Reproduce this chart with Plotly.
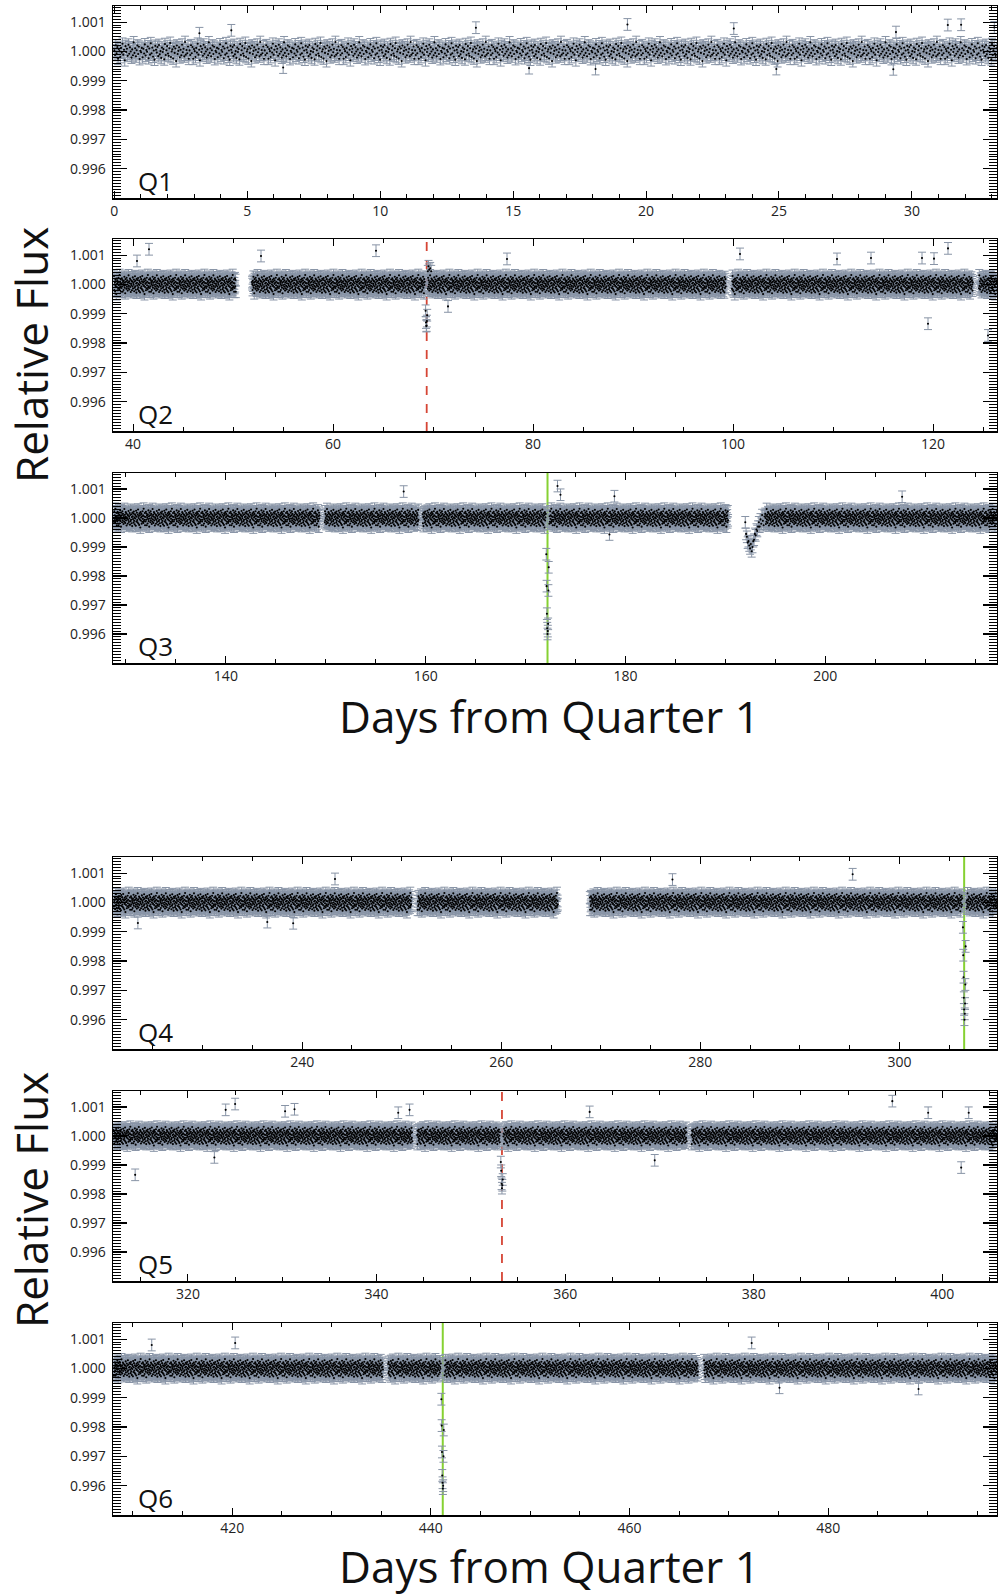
import numpy as np
import plotly.graph_objects as go

W, H = 998, 1596
FONT = "Open Sans"

# ---------------- data ----------------
QUARTERS = ["Q1", "Q2", "Q3", "Q4", "Q5", "Q6"]
X_RANGES = [(-0.05, 33.2), (38.0, 126.4), (128.7, 217.2),
            (221.0, 309.8), (312.05, 405.8), (408.0, 497.0)]
X_DTICK = [5, 20, 20, 20, 20, 20]
X_MINOR = [1, 5, 5, 5, 5, 5]

# continuous observing stretches (days)
SEG_Q1 = [(0.0, 33.2)]
SEG_Q2 = [(38.1, 50.3), (51.9, 99.3), (99.9, 124.0), (124.6, 126.4)]
SEG_Q3 = [(128.8, 149.4), (149.9, 159.3), (159.7, 190.3), (194.0, 217.2)]
SEG_Q4 = [(221.1, 251.0), (251.6, 265.7), (268.9, 309.8)]
SEG_Q5 = [(312.1, 343.8), (344.3, 372.9), (373.4, 405.8)]
SEG_Q6 = [(408.1, 435.2), (435.7, 466.9), (467.5, 497.0)]
SEGMENTS = [SEG_Q1, SEG_Q2, SEG_Q3, SEG_Q4, SEG_Q5, SEG_Q6]
CADENCE = 0.028  # days between samples

# typical point-to-point scatter read from the band (ppm)
RESID_PPM = [35, -120, 210, -60, 150, -250, 80, 10, -190, 120, -40, 260, -110, 60,
             -300, 180, -20, 90, -150, 230, -80, 140, 0, -210, 70, -130, 310, -50,
             110, -170, 40, 200, -90, 160, -260, 20, -30, 120, -200, 90, -70, 240,
             -140, 50, -10, 170, -230, 100, -110, 280, -60, 130, -180, 30, -280, 190,
             60, -40, 150, -160, 220, -100, 10, -220, 130, -20, 80, -270, 250, -120,
             40, 180, -70, -150, 110, 290, -190, 0, 70, -240, 160, -50, 100, -330,
             200, -90, 20, 140, -200, 60, -130, 230, -30, 90, -170, 320, -110, 50,
             -60, 170, -250]
FLUX_ERR = 0.0002

# transit / event markers
EVENT_X = [None, 69.37, 172.2, 306.5, 353.3, 441.2]
EVENT_KIND = [None, "dash", "solid", "solid", "dash", "solid"]

# in-transit points
TR_T_Q2 = [69.26, 69.30, 69.33, 69.36, 69.39, 69.42]
TR_F_Q2 = [0.9991, 0.9987, 0.99858, 0.9986, 0.99875, 0.99895]
TR_T_Q3 = [172.08, 172.11, 172.14, 172.17, 172.20, 172.23, 172.26, 172.29, 172.32]
TR_F_Q3 = [0.99875, 0.99765, 0.9967, 0.9962, 0.9960, 0.9961, 0.99635, 0.9975, 0.9983]
TR_T_Q4 = [306.38, 306.41, 306.44, 306.47, 306.50, 306.53, 306.56, 306.59, 306.62, 306.65]
TR_F_Q4 = [0.99915, 0.9982, 0.99745, 0.99675, 0.99635, 0.996, 0.9962, 0.99655, 0.9972, 0.9985]
TR_T_Q5 = [353.18, 353.22, 353.26, 353.30, 353.34, 353.38]
TR_F_Q5 = [0.9991, 0.9988, 0.99835, 0.9982, 0.9983, 0.9985]
TR_T_Q6 = [441.06, 441.09, 441.12, 441.15, 441.18, 441.21, 441.24, 441.27, 441.30]
TR_F_Q6 = [0.99895, 0.99805, 0.99715, 0.99635, 0.9961, 0.9959, 0.996, 0.997, 0.9979]
TR_T = [[], TR_T_Q2, TR_T_Q3, TR_T_Q4, TR_T_Q5, TR_T_Q6]
TR_F = [[], TR_F_Q2, TR_F_Q3, TR_F_Q4, TR_F_Q5, TR_F_Q6]

# Q3 dip near day 192-194
DIP_T = [192.00, 192.08, 192.16, 192.24, 192.32, 192.40, 192.48, 192.56, 192.64, 192.72,
         192.80, 192.88, 192.96, 193.04, 193.12, 193.20, 193.28, 193.36, 193.44, 193.52,
         193.60, 193.68, 193.76, 193.84, 193.92]
DIP_F = [0.99985, 0.99945, 0.99935, 0.99915, 0.9992, 0.99905, 0.99895, 0.9991, 0.99885, 0.999,
         0.9992, 0.99925, 0.99945, 0.9994, 0.9996, 0.99955, 0.9997, 0.99985, 0.9997, 0.99995,
         0.9998, 1.0001, 0.9999, 0.99975, 1.00005]

# isolated outliers
OUT_T_Q1 = [3.2, 4.4, 13.6, 6.35, 19.3, 23.3, 29.4, 31.35, 31.85, 33.1, 29.3, 24.9, 18.1, 15.6]
OUT_F_Q1 = [1.00062, 1.00072, 1.00081, 0.99945, 1.00092, 1.00078, 1.00066, 1.0009, 1.00091,
            1.00082, 0.99939, 0.9994, 0.9994, 0.99943]
OUT_T_Q2 = [40.4, 41.6, 52.8, 64.3, 71.5, 77.4, 100.7, 110.4, 113.8, 121.5, 119.5, 125.5,
            120.1, 118.9, 69.55, 69.62, 69.72, 69.48, 69.82]
OUT_F_Q2 = [1.0008, 1.0012, 1.00097, 1.00115, 0.99925, 1.00087, 1.00104, 1.00087, 1.0009,
            1.00123, 0.99866, 0.99826, 1.00088, 1.0009, 1.00062, 1.0005, 1.00055, 1.00045, 1.00045]
OUT_T_Q3 = [157.8, 173.2, 178.9, 207.7, 178.4, 173.5]
OUT_F_Q3 = [1.00091, 1.0011, 1.00075, 1.00073, 0.99943, 1.0008]
OUT_T_Q4 = [295.3, 277.2, 243.3, 236.5, 239.1, 223.5]
OUT_F_Q4 = [1.00096, 1.00078, 1.0008, 0.99933, 0.99929, 0.9993]
OUT_T_Q5 = [314.4, 325.0, 324.0, 330.3, 331.3, 342.3, 343.5, 322.8, 362.6, 369.5, 394.7,
            402.0, 398.5, 402.8]
OUT_F_Q5 = [0.99866, 1.0011, 1.0009, 1.00085, 1.00092, 1.0008, 1.0009, 0.99926, 1.00083,
            0.99916, 1.0012, 0.99891, 1.0008, 1.0008]
OUT_T_Q6 = [420.3, 411.9, 472.3, 475.1, 489.1]
OUT_F_Q6 = [1.00087, 1.0008, 1.00087, 0.99934, 0.9993]
OUT_T = [OUT_T_Q1, OUT_T_Q2, OUT_T_Q3, OUT_T_Q4, OUT_T_Q5, OUT_T_Q6]
OUT_F = [OUT_F_Q1, OUT_F_Q2, OUT_F_Q3, OUT_F_Q4, OUT_F_Q5, OUT_F_Q6]

Y_TICKS = [0.996, 0.997, 0.998, 0.999, 1.000, 1.001]
Y_TICKTEXT = ["0.996", "0.997", "0.998", "0.999", "1.000", "1.001"]
Y_RANGE = [0.995, 1.00155]

# panel placement (pixels from top)
PANEL_TOP = [6, 239, 473, 857, 1091, 1323]
PANEL_BOT = [198, 431, 663, 1049, 1281, 1515]
X_LEFT, X_RIGHT = 113, 997

# ---------------- figure ----------------
fig = go.Figure()
layout = dict(
    template="none",
    width=W, height=H, margin=dict(l=0, r=0, t=0, b=0, pad=0, autoexpand=False),
    paper_bgcolor="white", plot_bgcolor="white", showlegend=False,
    font=dict(family=FONT, color="#1a1a1a"),
)
shapes, annotations = [], []
k = 0
for i, q in enumerate(QUARTERS):
    tr_lo = min(TR_T[i]) - 0.06 if TR_T[i] else None
    tr_hi = max(TR_T[i]) + 0.06 if TR_T[i] else None
    xs, ys = [], []
    for a, b in SEGMENTS[i]:
        for t in np.arange(a, b, CADENCE):
            if tr_lo is not None and tr_lo <= t <= tr_hi:
                continue
            xs.append(float(t))
            ys.append(1.0 + RESID_PPM[k % len(RESID_PPM)] * 1e-6)
            k += 1
    if i == 2:
        xs += DIP_T
        ys += DIP_F
    xs += TR_T[i] + OUT_T[i]
    ys += TR_F[i] + OUT_F[i]

    n = i + 1
    xname = "x" if n == 1 else f"x{n}"
    yname = "y" if n == 1 else f"y{n}"
    fig.add_trace(go.Scatter(
        x=xs, y=ys, mode="markers", xaxis=xname, yaxis=yname,
        marker=dict(color="black", size=2.1, line=dict(width=0)),
        error_y=dict(type="constant", value=FLUX_ERR, color="#8894a6",
                     thickness=1, width=4),
        hoverinfo="skip",
    ))

    xkey = "xaxis" if n == 1 else f"xaxis{n}"
    ykey = "yaxis" if n == 1 else f"yaxis{n}"
    layout[xkey] = dict(
        domain=[X_LEFT / W, X_RIGHT / W], range=list(X_RANGES[i]), anchor=yname,
        automargin=False,
        showline=True, linecolor="black", linewidth=1.5, mirror="ticks",
        ticks="inside", ticklen=7, tickwidth=1, tickcolor="black",
        tickmode="linear", tick0=0, dtick=X_DTICK[i],
        minor=dict(tickmode="linear", tick0=0, dtick=X_MINOR[i], ticks="inside",
                   ticklen=4, tickwidth=1, tickcolor="black", showgrid=False),
        showgrid=False, zeroline=False,
        tickfont=dict(size=14, family=FONT, color="#222"),
    )
    layout[ykey] = dict(
        domain=[1 - PANEL_BOT[i] / H, 1 - PANEL_TOP[i] / H], range=Y_RANGE,
        anchor=xname, automargin=False,
        showline=True, linecolor="black", linewidth=1.5,
        mirror="ticks", ticks="inside", ticklen=14, tickwidth=1.2, tickcolor="black",
        tickmode="array", tickvals=Y_TICKS, ticktext=Y_TICKTEXT,
        minor=dict(tickmode="linear", tick0=0.995, dtick=0.0001, ticks="inside",
                   ticklen=8, tickwidth=1, tickcolor="black", showgrid=False),
        showgrid=False, zeroline=False, ticklabelstandoff=3,
        tickfont=dict(size=14, family=FONT, color="#222"),
    )

    if EVENT_X[i] is not None:
        if EVENT_KIND[i] == "dash":
            line = dict(color="#d64535", width=1.8, dash="dash")
        else:
            line = dict(color="#86d132", width=2)
        shapes.append(dict(type="line", xref=xname, yref=f"{yname} domain",
                           x0=EVENT_X[i], x1=EVENT_X[i], y0=0, y1=1,
                           line=line, layer="below"))

    annotations.append(dict(
        text=q, xref=f"{xname} domain", yref=f"{yname} domain",
        x=0.026, y=-0.015, xanchor="left", yanchor="bottom", showarrow=False,
        font=dict(size=26, family=FONT, color="#111"),
    ))

# big axis titles
for yc in (355, 1200):
    annotations.append(dict(
        text="Relative Flux", xref="paper", yref="paper", x=31 / W, y=1 - yc / H,
        xanchor="center", yanchor="middle", textangle=-90, showarrow=False,
        font=dict(size=44, family=FONT, color="#111"),
    ))
for yc in (716, 1566):
    annotations.append(dict(
        text="Days from Quarter 1", xref="paper", yref="paper", x=549 / W, y=1 - yc / H,
        xanchor="center", yanchor="middle", showarrow=False,
        font=dict(size=44, family=FONT, color="#111"),
    ))

layout["shapes"] = shapes
layout["annotations"] = annotations
fig.update_layout(**layout)
fig.write_html(
    "out.html",
    config={"displayModeBar": False, "staticPlot": True},
    post_script="document.body.style.margin='0';document.body.style.overflow='hidden';",
)
